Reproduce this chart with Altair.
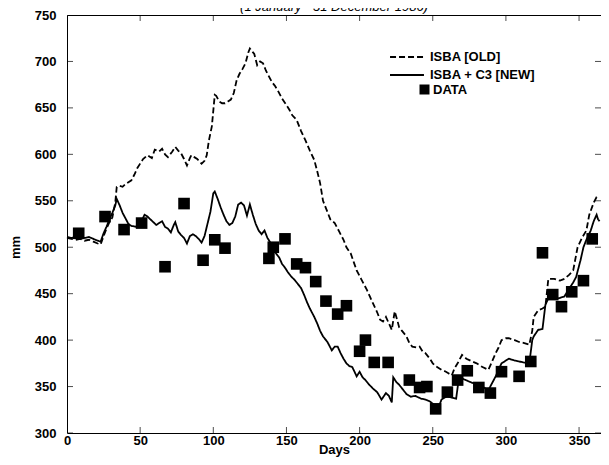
import altair as alt
import pandas as pd

# ---------------- data ----------------
title_text = "(1 January - 31 December 1986)"
series_names = ["ISBA [OLD]", "ISBA + C3 [NEW]"]
data_name = "DATA"

old_days = [0, 3, 6, 9, 12, 15, 18, 21, 23, 25, 27, 29, 31, 33, 34, 36, 38, 40, 42, 44, 46, 48, 50, 52, 55,
            58, 60, 63, 65, 67, 69, 72, 74, 76, 78, 80, 82, 84, 85, 87, 89, 92, 94, 95.5, 97, 99, 101, 102,
            104, 106, 108, 110, 112, 114, 116, 118, 120, 122, 124, 125, 127, 128, 130, 132, 134, 136, 137,
            140, 142, 144, 147, 150, 152, 154, 157, 160, 163, 166, 169, 171, 173, 175, 178, 180, 183, 186,
            189, 191, 194, 196, 198, 201, 203, 205, 207, 209, 212, 214, 216, 218, 220, 222, 224, 226, 227,
            229, 232, 234, 236, 239, 241, 243, 245, 248, 250, 252, 254, 256, 259, 261, 263, 265, 267, 270,
            273, 277, 280, 284, 288, 290, 293, 295, 297, 300, 302, 306, 309, 312, 316, 318, 319, 322, 325,
            327, 329, 333, 337, 340, 343, 346, 349, 352, 355, 357, 360, 362, 364]
old_mm = [510, 509, 508, 509, 507, 508, 506, 504, 503, 512, 520, 527, 532, 548, 565, 566, 565, 568, 570, 572,
          578, 585, 590, 595, 599, 596, 605, 603, 606, 600, 597, 603, 608, 604, 601, 595, 588, 596, 599, 597,
          595, 590, 593, 599, 615, 630, 664, 663, 657, 655, 655, 657, 659, 666, 680, 687, 692, 698, 710, 714,
          710, 708, 696, 700, 698, 690, 687, 678, 674, 669, 660, 653, 648, 642, 637, 625, 615, 604, 594, 582,
          569, 550, 538, 530, 526, 517, 508, 500, 493, 484, 475, 466, 460, 454, 447, 440, 430, 422, 420, 425,
          418, 411, 431, 420, 414, 410, 404, 397, 393, 392, 393, 388, 386, 380, 375, 372, 370, 368, 366, 364,
          362, 370, 375, 384, 380, 377, 375, 371, 368, 375, 386, 392, 400, 402, 402, 400, 398, 397, 395, 410,
          425, 432, 434, 436, 466, 466, 464, 466, 470, 475, 500, 510, 518, 535, 548, 554, 555]

new_days = [0, 3, 6, 9, 12, 15, 18, 21, 23, 25, 27, 29, 31, 33, 34, 36, 38, 40, 42, 44, 47, 49, 51, 53, 55,
            57, 59, 61, 63, 65, 67, 69, 71, 73, 74, 76, 78, 80, 82, 84, 86, 88, 90, 92, 94, 96, 98, 100, 101,
            103, 105, 107, 109, 111, 113, 115, 117, 119, 121, 123, 125, 127, 129, 131, 133, 135, 137, 139,
            141, 143, 145, 147, 149, 151, 153, 156, 158, 160, 162, 164, 166, 169, 171, 173, 175, 178, 181,
            183, 185, 187, 189, 191, 193, 195, 198, 200, 202, 204, 206, 209, 212, 215, 218, 220, 222, 223,
            225, 227, 230, 232, 235, 238, 242, 245, 248, 252, 254, 256, 258, 260, 263, 266, 268, 271, 274,
            277, 280, 284, 288, 290, 293, 295, 297, 300, 302, 306, 309, 312, 316, 318, 319, 322, 325, 327,
            329, 331, 334, 336, 338, 340, 343, 346, 348, 350, 351, 353, 355, 358, 360, 362, 363, 364]
new_mm = [511, 510, 511, 509, 510, 511, 509, 507, 506, 515, 522, 530, 537, 545, 552, 545, 537, 531, 525, 523,
          522, 525, 528, 535, 533, 530, 527, 524, 526, 528, 522, 520, 516, 524, 527, 517, 513, 510, 504, 512,
          514, 512, 509, 505, 512, 525, 538, 558, 560, 552, 543, 535, 528, 524, 526, 533, 546, 548, 545, 534,
          546, 535, 525, 518, 514, 518, 510, 505, 499, 493, 489, 482, 478, 473, 469, 464, 460, 456, 449, 441,
          434, 425, 418, 410, 404, 398, 389, 393, 393, 386, 380, 375, 372, 371, 361, 366, 360, 357, 353, 348,
          344, 336, 343, 340, 333, 360, 355, 352, 346, 342, 339, 340, 337, 336, 334, 329, 328, 336, 338, 340,
          338, 337, 361, 358, 356, 354, 352, 350, 346, 352, 361, 368, 375, 378, 380, 378, 377, 376, 375, 400,
          404, 411, 412, 438, 445, 449, 446, 445, 446, 447, 455, 462, 468, 480, 486, 500, 508, 518, 528, 535,
          530, 528]

obs_days = [8, 26, 39, 51, 67, 80, 93, 101, 108, 138, 141, 149, 157, 163, 170, 177, 185, 191, 200, 204, 210,
            219.5, 234, 241, 246, 252, 260, 267, 273.6, 281.5, 289.4, 297, 309, 317, 325, 332, 338, 345, 353,
            359]
obs_mm = [515, 533, 519, 526, 479, 547, 486, 508, 499, 488, 500, 509, 482, 478, 463, 442, 428, 437, 388, 400,
          376, 376, 357, 349, 350, 326, 344, 357, 367, 349, 343, 366, 361, 377, 494, 449, 436, 452, 464, 509]

x_domain = [0, 365]
y_domain = [300, 750]
x_ticks = [0, 50, 100, 150, 200, 250, 300, 350]
y_ticks = [300, 350, 400, 450, 500, 550, 600, 650, 700, 750]

# ---------------- tables ----------------
lines = pd.concat([
    pd.DataFrame({"day": old_days, "mm": old_mm, "series": series_names[0]}),
    pd.DataFrame({"day": new_days, "mm": new_mm, "series": series_names[1]}),
], ignore_index=True)
obs = pd.DataFrame({"day": obs_days, "mm": obs_mm, "kind": data_name})
xtick_df = pd.DataFrame([{"day": t, "mm": e} for t in x_ticks for e in y_domain])
ytick_df = pd.DataFrame([{"day": e, "mm": t} for t in y_ticks for e in x_domain])
title_df = pd.DataFrame({"t": [title_text]})

FONT = "Liberation Sans"
W, H = 534, 418

xs = alt.Scale(domain=x_domain, nice=False, zero=False)
ys = alt.Scale(domain=y_domain, nice=False, zero=False)

x_enc = alt.X("day:Q", scale=xs, axis=alt.Axis(values=x_ticks, title="Days", labelPadding=1,
                                                titleY=23, titleBaseline="bottom",
                                                labelFlush=False, labelOverlap=False))
y_enc = alt.Y("mm:Q", scale=ys, axis=alt.Axis(values=y_ticks, title="mm", labelPadding=11,
                                              titlePadding=12, titleY=232, labelOverlap=False))

line_layer = alt.Chart(lines).mark_line(color="black", strokeWidth=1.8).encode(
    x=x_enc,
    y=y_enc,
    strokeDash=alt.StrokeDash(
        "series:N",
        scale=alt.Scale(domain=series_names, range=[[6, 3], [1, 0]]),
        legend=alt.Legend(title=None, orient="none", legendX=333, legendY=35,
                          symbolType="M-3,0H3", symbolSize=128, symbolStrokeWidth=1.8,
                          symbolStrokeColor="black", labelOffset=16, rowPadding=4),
    ),
)

obs_layer = alt.Chart(obs).mark_point(filled=True, size=135, color="black", opacity=1).encode(
    x=x_enc,
    y=y_enc,
    shape=alt.Shape(
        "kind:N",
        scale=alt.Scale(domain=[data_name], range=["square"]),
        legend=alt.Legend(title=None, orient="none", legendX=351, legendY=68,
                          symbolSize=100, symbolFillColor="black", symbolStrokeColor="black",
                          symbolStrokeWidth=0, labelOffset=2),
    ),
)

xtick_layer = alt.Chart(xtick_df).mark_tick(orient="vertical", size=12, thickness=1,
                                            color="black", clip=True).encode(x=x_enc, y=y_enc)
ytick_layer = alt.Chart(ytick_df).mark_tick(orient="horizontal", size=12, thickness=1,
                                            color="black", clip=True).encode(x=x_enc, y=y_enc)

title_layer = alt.Chart(title_df).mark_text(font=FONT, fontSize=13, fontStyle="italic",
                                            color="black", baseline="alphabetic", align="center").encode(
    text="t:N",
    x=alt.value(W / 2),
    y=alt.value(-4),
)

chart = alt.layer(line_layer, obs_layer, xtick_layer, ytick_layer, title_layer).properties(
    width=W, height=H,
    autosize=alt.AutoSizeParams(type="none"),
    padding={"left": 59, "top": 7, "right": 0, "bottom": 24},
).configure_view(
    stroke="black", strokeWidth=1
).configure_axis(
    domain=False, ticks=False, grid=False,
    labelFont=FONT, labelFontWeight="bold", labelFontSize=13, labelColor="black",
    titleFont=FONT, titleFontWeight="bold", titleFontSize=13, titleColor="black",
).configure_legend(
    labelFont=FONT, labelFontWeight="bold", labelFontSize=13, labelColor="black", padding=0,
)

chart.save("out.html", embed_options={"renderer": "svg", "actions": False})
